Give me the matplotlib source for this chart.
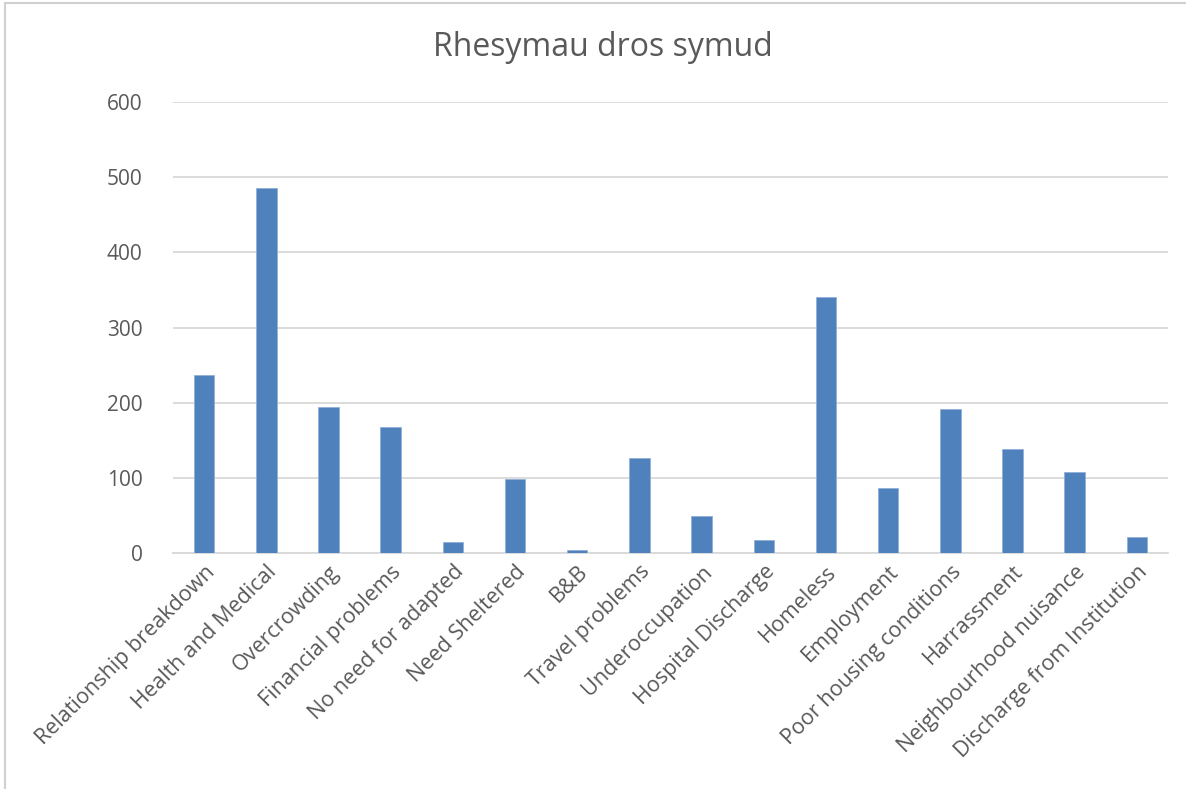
import matplotlib.pyplot as plt
from matplotlib.lines import Line2D

# Reasons for moving (Welsh title), counts per reason
categories = ['Relationship breakdown', 'Health and Medical', 'Overcrowding',
              'Financial problems', 'No need for adapted', 'Need Sheltered', 'B&B',
              'Travel problems', 'Underoccupation', 'Hospital Discharge', 'Homeless',
              'Employment', 'Poor housing conditions', 'Harrassment',
              'Neighbourhood nuisance', 'Discharge from Institution']
values = [237, 485, 194, 168, 15, 98, 4, 126, 49, 17, 341, 86, 191, 139, 108, 21]
yticks = [0, 100, 200, 300, 400, 500, 600]

plt.rcParams['font.family'] = ['Open Sans', 'DejaVu Sans']
text_col = '#595959'

fig = plt.figure(figsize=(11.86, 7.89), dpi=100)
ax = fig.add_axes([0.1459, 0.2991, 0.8389, 0.5716])

x = range(len(categories))
ax.bar(x, values, width=0.33, color='#4f81bd', edgecolor='#8fb0d8', linewidth=0.6, zorder=3)

ax.set_ylim(0, 600)
ax.set_xlim(-0.5, len(categories) - 0.5)
ax.set_yticks(yticks)
ax.set_yticklabels([str(v) for v in yticks], fontsize=15, color=text_col)
ax.yaxis.grid(True, color='#d9d9d9', linewidth=1.3, zorder=0)
ax.set_axisbelow(True)

ax.set_xticks(list(x))
ax.set_xticklabels(categories, rotation=45, ha='right', rotation_mode='anchor',
                   fontsize=15.5, color=text_col)
ax.tick_params(axis='y', length=0, pad=22)
ax.tick_params(axis='x', length=0, pad=6)

for s in ['top', 'right', 'left']:
    ax.spines[s].set_visible(False)
ax.spines['bottom'].set_color('#d9d9d9')
ax.spines['bottom'].set_linewidth(1.3)

fig.text(0.508, 0.94, 'Rhesymau dros symud', fontsize=23, color=text_col,
         ha='center', va='center')

# outer chart frame (top and left edges visible in the screenshot)
fig.add_artist(Line2D([0.004, 1.0], [0.996, 0.996], transform=fig.transFigure,
                      color='#d0d0d0', linewidth=1.5))
fig.add_artist(Line2D([0.004, 0.004], [0.0, 0.996], transform=fig.transFigure,
                      color='#d0d0d0', linewidth=1.5))

fig.savefig('out.png', dpi=100)
